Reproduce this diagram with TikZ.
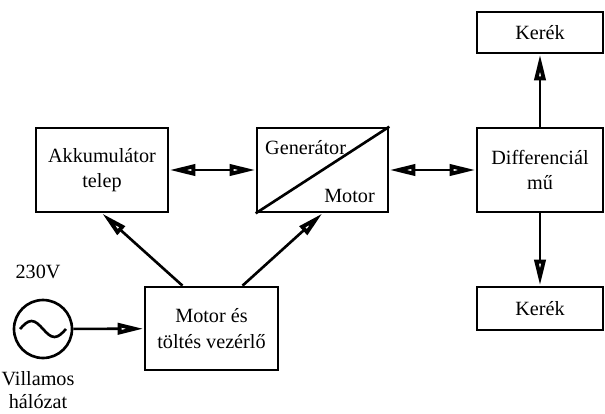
\documentclass[tikz,border=0pt]{standalone}
\usepackage{fontspec}
\setmainfont{Liberation Serif}
\usetikzlibrary{arrows.meta,positioning}

\begin{document}
\begin{tikzpicture}[x=0.02cm,y=-0.02cm,
    font=\fontsize{11.5}{12.5}\selectfont,
    blokk/.style={draw,line width=1.5pt,minimum width=2.64cm,minimum height=1.68cm,align=center,inner sep=2pt},
    nyil/.style={line width=1.5pt,-{Triangle[open,length=5.2mm,width=2.2mm,line width=2.2pt]}},
    kettos/.style={line width=1.5pt,{Triangle[open,length=5.2mm,width=2.2mm,line width=2.2pt]}-{Triangle[open,length=5.2mm,width=2.2mm,line width=2.2pt]}}]
  \useasboundingbox (0,0) rectangle (605,413);

  % blokkok
  \node[blokk] (akku) at (102,170) {Akkumulátor\\[2pt]telep};
  \node[blokk,minimum width=2.62cm] (gen) at (322.5,170) {};
  \node[blokk,minimum width=2.52cm] (diff) at (540,170) {Differenciál\\[2pt]mű};
  \node[blokk,minimum width=2.52cm,minimum height=0.82cm] (kerekfent) at (540,32.5) {Kerék};
  \node[blokk,minimum width=2.52cm,minimum height=0.86cm] (kereklent) at (540,308.5) {Kerék};
  \node[blokk,minimum width=2.66cm,minimum height=1.66cm] (vezerlo) at (211.5,328.5) {Motor és\\[2pt]töltés vezérlő};

  % generator / motor
  \draw[line width=1.5pt] (gen.south west) -- (gen.north east);
  \node[anchor=west] (genfelirat) at (259,148) {Generátor};
  \node[anchor=east] (motfelirat) at (381,196) {Motor};

  % halozat
  \node[draw,circle,line width=1.5pt,minimum size=1.16cm] (halo) at (43,329) {};
  \draw[line width=1.5pt] (halo.center) ++(-23,0) sin ++(11.5,-8) cos ++(11.5,8) sin ++(11.5,8) cos ++(11.5,-8);
  \node (feszultseg) at (38,272) {230V};
  \node[align=center,inner sep=0pt] (halofelirat) at (38,390) {Villamos\\[1pt]hálózat};

  % nyilak
  \draw[nyil] (halo) -- (vezerlo);
  \draw[nyil] ([xshift=-0.58cm]vezerlo.north) -- (akku.south);
  \draw[nyil] ([xshift=0.62cm]vezerlo.north) -- (gen.south);
  \draw[kettos] (akku) -- (gen);
  \draw[kettos] (gen) -- (diff);
  \draw[nyil] (diff) -- (kerekfent);
  \draw[nyil] (diff) -- (kereklent);
\end{tikzpicture}
\end{document}
